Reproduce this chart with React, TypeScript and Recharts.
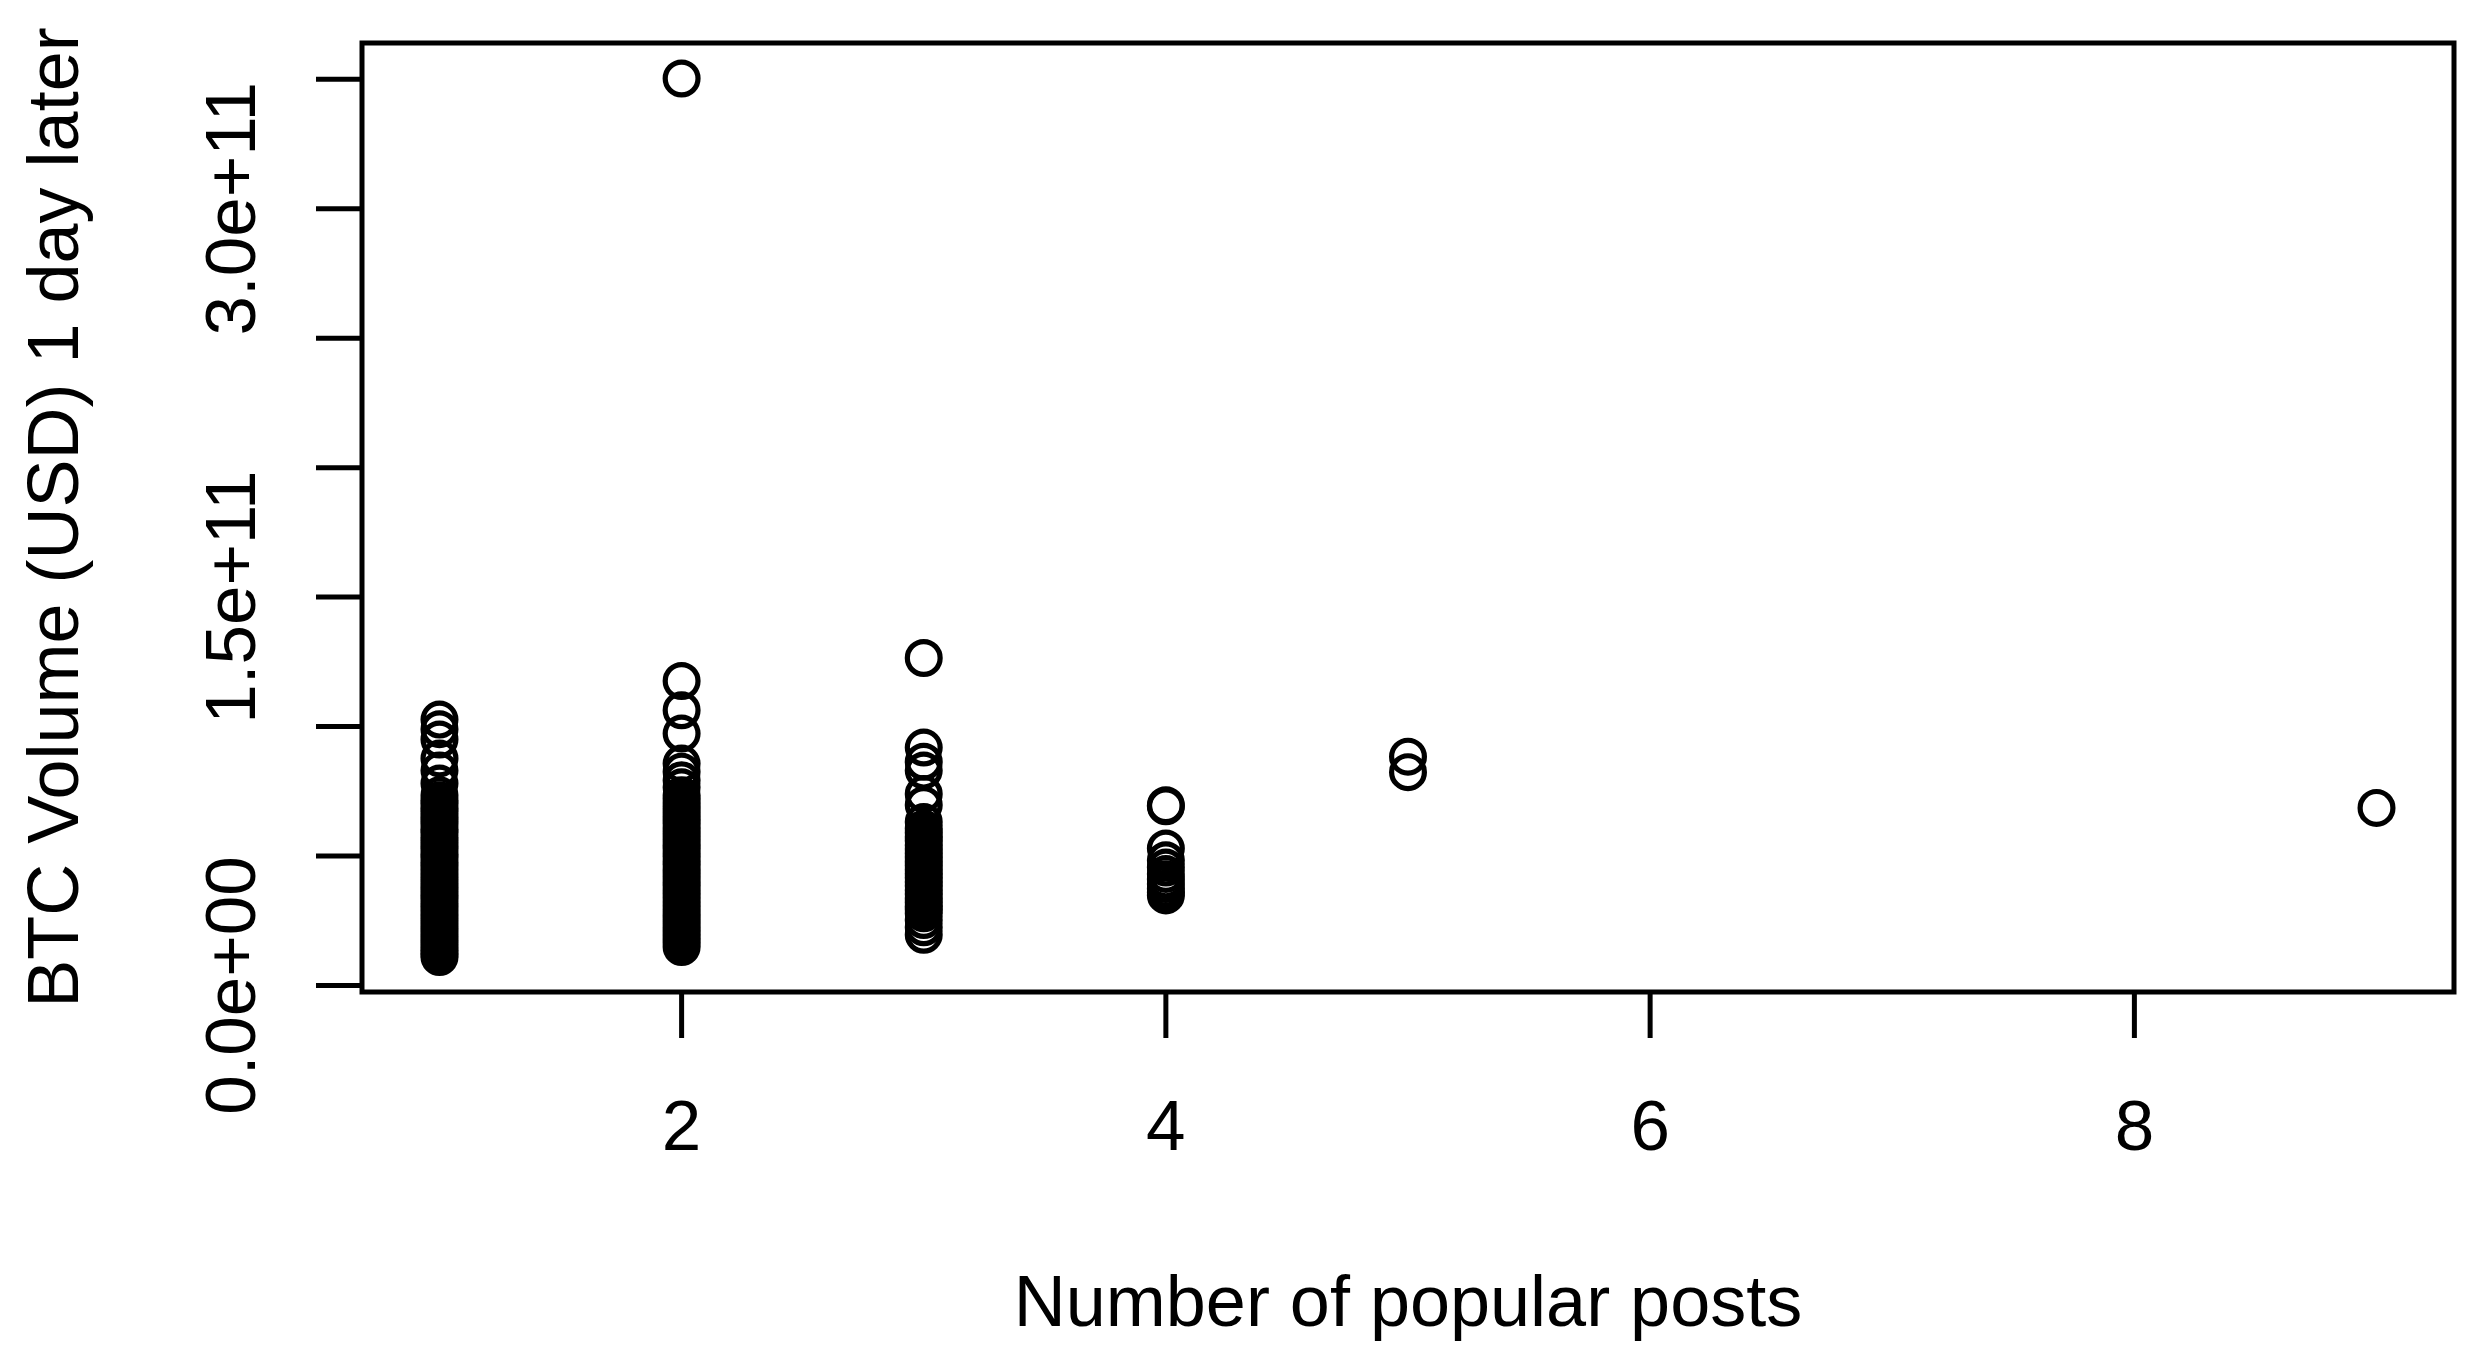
import { Label, ReferenceArea, Scatter, ScatterChart, XAxis, YAxis } from "recharts";

const FONT = '"Liberation Sans", Arial, Helvetica, sans-serif';

// x categories: number of popular posts on the day
const postCounts = [1, 2, 3, 4, 5, 9];

// BTC volume (USD) one day later, in billions per post count
const volumeOnePost = [
  102.7, 99.0, 95.0, 87.7, 83.0, 78.0, 73.5, 71.6, 70.2, 68.5, 67.1, 65.3, 63.8, 62.2, 60.4,
  59.1, 57.3, 55.8, 54.1, 52.6, 50.8, 49.5, 47.7, 46.3, 44.6, 43.0, 41.5, 39.8, 38.2, 36.7,
  35.1, 33.6, 31.9, 30.4, 28.8, 27.2, 25.7, 24.0, 22.5, 20.9, 19.4, 17.8, 16.3, 14.7, 13.4,
  12.2, 11.0,
];
const volumeTwoPosts = [
  350.3, 117.6, 106.3, 97.3, 85.7, 82.6, 79.3, 76.6, 73.5, 72.0, 70.4, 68.9, 67.2, 65.6, 64.0,
  62.5, 60.8, 59.3, 57.6, 56.1, 54.4, 52.9, 51.2, 49.7, 48.0, 46.6, 44.9, 43.3, 41.8, 40.1,
  38.6, 36.9, 35.4, 33.8, 32.2, 30.6, 29.1, 27.4, 25.9, 24.3, 22.7, 21.2, 19.6, 18.1, 16.5,
  14.9,
];
const volumeThreePosts = [
  126.5, 91.9, 86.4, 83.0, 74.0, 69.7, 63.2, 60.6, 59.0, 57.4, 55.9, 54.2, 52.7, 51.0, 49.6,
  47.9, 46.4, 44.7, 43.2, 41.6, 40.0, 38.5, 36.8, 35.3, 33.7, 32.1, 30.6, 29.4, 27.9, 25.3,
  22.5, 19.6,
];
const volumeFourPosts = [69.6, 69.2, 52.9, 48.4, 45.6, 43.1, 41.0, 39.2, 37.4, 35.9, 34.8];
const volumeFivePosts = [88.4, 82.4];
const volumeNinePosts = [68.6];

const volumesByCount = [
  volumeOnePost,
  volumeTwoPosts,
  volumeThreePosts,
  volumeFourPosts,
  volumeFivePosts,
  volumeNinePosts,
];

const xTicks = [2, 4, 6, 8];
const yTicks = [0, 5e10, 1e11, 1.5e11, 2e11, 2.5e11, 3e11, 3.5e11];
// R drops the labels that would overlap
const yTickLabels = ["0.0e+00", "", "", "1.5e+11", "", "", "3.0e+11", ""];

const points = postCounts.flatMap((n, i) =>
  volumesByCount[i].map((v) => ({ posts: n, volume: v * 1e9 }))
);

function XTick({ x, y, payload }: any) {
  return (
    <text x={x} y={y + 110} textAnchor="middle" fontSize={71} fontFamily={FONT} fill="#000">
      {payload.value}
    </text>
  );
}

function YTick({ x, y, payload }: any) {
  const label = yTickLabels[yTicks.indexOf(payload.value)];
  if (!label) return <g />;
  const bx = x - 59;
  return (
    <text
      x={bx}
      y={y}
      transform={`rotate(-90 ${bx} ${y})`}
      textAnchor="middle"
      fontSize={71}
      fontFamily={FONT}
      fill="#000"
    >
      {label}
    </text>
  );
}

const ring = (p: any) => (
  <circle cx={p.cx} cy={p.cy} r={16.4} fill="none" stroke="#000" strokeWidth={5.2} />
);

export default function App() {
  return (
    <div style={{ position: "absolute", left: 0, top: 0, background: "#fff" }}>
      <ScatterChart width={2482} height={1353} margin={{ top: 43, right: 28, bottom: 0, left: 0 }}>
        <XAxis
          type="number"
          dataKey="posts"
          domain={[0.68, 9.32]}
          ticks={xTicks}
          allowDataOverflow
          axisLine={false}
          tickSize={46}
          tickLine={{ stroke: "#000", strokeWidth: 5 }}
          tick={(p: any) => <XTick {...p} />}
          height={361}
        >
          <Label
            content={({ viewBox }: any) => (
              <text
                x={viewBox.x + viewBox.width / 2}
                y={viewBox.y + 334}
                textAnchor="middle"
                fontSize={72}
                fontFamily={FONT}
                fill="#000"
              >
                Number of popular posts
              </text>
            )}
          />
        </XAxis>
        <YAxis
          type="number"
          dataKey="volume"
          domain={[-2.5e9, 3.64e11]}
          ticks={yTicks}
          allowDataOverflow
          axisLine={false}
          tickSize={46}
          tickLine={{ stroke: "#000", strokeWidth: 5 }}
          tick={(p: any) => <YTick {...p} />}
          width={362}
        >
          <Label
            content={({ viewBox }: any) => {
              const lx = viewBox.x + 78;
              const ly = viewBox.y + viewBox.height / 2;
              return (
                <text
                  x={lx}
                  y={ly}
                  transform={`rotate(-90 ${lx} ${ly})`}
                  textAnchor="middle"
                  fontSize={72}
                  fontFamily={FONT}
                  fill="#000"
                >
                  BTC Volume (USD) 1 day later
                </text>
              );
            }}
          />
        </YAxis>
        <Scatter data={points} shape={ring} isAnimationActive={false} />
        <ReferenceArea
          x1={0.68}
          x2={9.32}
          y1={-2.5e9}
          y2={3.64e11}
          fill="none"
          stroke="#000"
          strokeWidth={5}
          ifOverflow="visible"
        />
      </ScatterChart>
    </div>
  );
}
